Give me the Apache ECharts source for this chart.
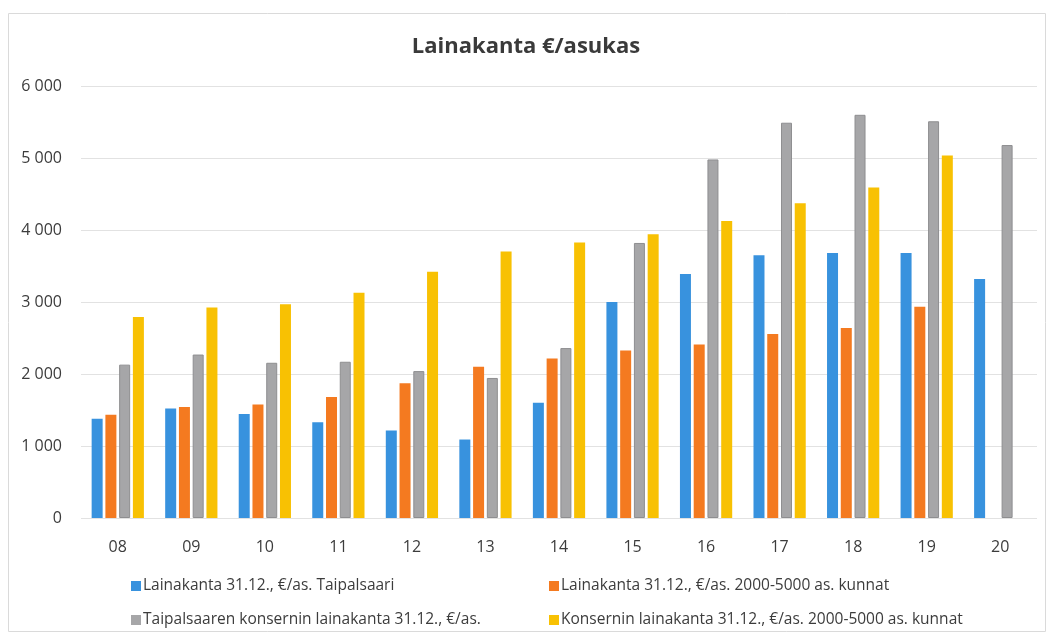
<!DOCTYPE html>
<html>
<head>
<meta charset="utf-8">
<script src="https://cdn.jsdelivr.net/npm/echarts@6/dist/echarts.min.js"></script>
<style>
html,body{margin:0;padding:0;background:#fff;}
#chart{width:1052px;height:634px;}
</style>
</head>
<body>
<div id="chart"></div>
<script>
const categories = ['08','09','10','11','12','13','14','15','16','17','18','19','20'];
const seriesNames = [
  'Lainakanta 31.12., €/as. Taipalsaari',
  'Lainakanta 31.12., €/as. 2000-5000 as. kunnat',
  'Taipalsaaren konsernin lainakanta 31.12., €/as.',
  'Konsernin lainakanta 31.12., €/as. 2000-5000 as. kunnat'
];
const taipalsaari = [1380, 1520, 1445, 1330, 1215, 1090, 1600, 3000, 3390, 3650, 3680, 3680, 3320];
const kunnat = [1435, 1540, 1577, 1680, 1870, 2100, 2215, 2325, 2410, 2555, 2640, 2935, null];
const konserni = [2130, 2270, 2156, 2170, 2040, 1945, 2360, 3820, 4980, 5490, 5600, 5510, 5180];
const konserniKunnat = [2790, 2925, 2970, 3127, 3420, 3700, 3825, 3940, 4125, 4370, 4590, 5035, null];
const yTicks = [0, 1000, 2000, 3000, 4000, 5000, 6000];

const FONT = "'Open Sans', 'Noto Sans', sans-serif";
const colors = ['#3892de', '#f47a20', '#a6a6a8', '#f8c103'];
const values = [taipalsaari, kunnat, konserni, konserniKunnat];

const chart = echarts.init(document.getElementById('chart'), null, {renderer: 'canvas'});

const legendPos = [
  {left: 126, top: 573},
  {left: 544, top: 573},
  {left: 126, top: 607},
  {left: 544, top: 607}
];

chart.setOption({
  backgroundColor: '#ffffff',
  animation: false,
  color: colors,
  title: {
    text: 'Lainakanta €/asukas',
    left: 'center',
    top: 31,
    textStyle: {fontFamily: FONT, fontSize: 22, fontWeight: 'bold', color: '#3a3a3a'}
  },
  legend: seriesNames.map((n, i) => ({
    data: [n],
    left: legendPos[i].left,
    top: legendPos[i].top,
    itemWidth: 10,
    itemHeight: 10,
    icon: 'rect',
    itemGap: 4,
    itemStyle: {borderWidth: 0},
    textStyle: {fontFamily: FONT, fontSize: 15.5, color: '#3c3c3c', padding: [0, 0, 0, -3]}
  })),
  grid: {left: 81, right: 15, top: 86, bottom: 116, containLabel: false},
  xAxis: {
    type: 'category',
    data: categories,
    axisLine: {show: false},
    axisTick: {show: false},
    axisLabel: {fontFamily: FONT, fontSize: 16, color: '#3c3c3c', margin: 21}
  },
  yAxis: {
    type: 'value',
    min: yTicks[0],
    max: yTicks[yTicks.length - 1],
    interval: 1000,
    axisLine: {show: false},
    axisTick: {show: false},
    splitLine: {lineStyle: {color: '#e2e2e2', width: 1}},
    axisLabel: {
      fontFamily: FONT, fontSize: 16, color: '#3c3c3c', margin: 19,
      formatter: v => String(v).replace(/\B(?=(\d{3})+(?!\d))/g, ' ')
    }
  },
  graphic: [{
    type: 'rect',
    shape: {x: 8.5, y: 13.5, width: 1037, height: 618},
    style: {fill: 'none', stroke: '#dadada', lineWidth: 1},
    silent: true
  }],
  series: seriesNames.map((n, i) => ({
    name: n,
    type: 'bar',
    data: values[i],
    barWidth: 11,
    barGap: '25%',
    itemStyle: i === 2 ? {color: colors[i], borderColor: '#8e8e90', borderWidth: 1} : {color: colors[i]}
  }))
});
</script>
</body>
</html>
